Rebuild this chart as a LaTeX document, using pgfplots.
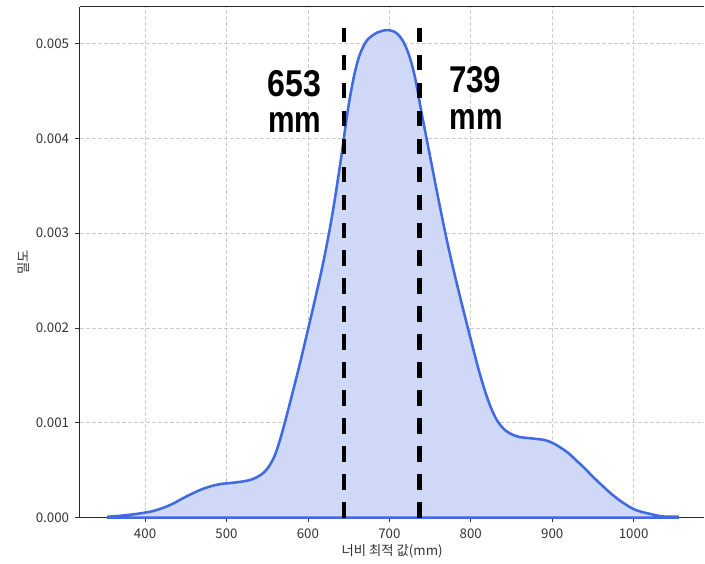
\documentclass[border=0pt]{standalone}
\usepackage{pgfplots}
\pgfplotsset{compat=1.18}
\usepackage{fontspec}
\setmainfont{Noto Sans CJK KR}
\newfontfamily\annfont{Liberation Sans}
\definecolor{royal}{RGB}{65,105,225}
\definecolor{fillc}{RGB}{207,216,246}
\definecolor{gridc}{RGB}{205,205,205}
\definecolor{tickc}{RGB}{50,50,50}
\begin{document}
\begin{tikzpicture}
\begin{axis}[
  scale only axis,
  width=468.75pt, height=383.6pt,
  xmin=320, xmax=1087, ymin=0, ymax=0.00539,
  axis lines*=left,
  tick align=outside,
  major tick length=3.6pt,
  every tick/.style={black!80, line width=0.6pt},
  axis line style={black!85, line width=0.8pt},
  xtick={400,500,600,700,800,900,1000},
  xticklabels={400,500,600,700,800,900,1000},
  ytick={0,0.001,0.002,0.003,0.004,0.005},
  yticklabels={0.000,0.001,0.002,0.003,0.004,0.005},
  scaled y ticks=false,
  /pgf/number format/assume math mode=true,
  ticklabel style={font=\fontsize{10}{12}\selectfont, text=tickc},
  xticklabel style={yshift=-1pt},
  yticklabel style={xshift=-1pt},
  grid=major,
  major grid style={gridc, dash pattern=on 3pt off 1.5pt, line width=0.5pt},
  xlabel={너비 최적 값(mm)},
  ylabel={밀도},
  label style={font=\fontsize{10}{12}\selectfont, text=tickc},
  xlabel style={yshift=2pt},
  ylabel style={yshift=-2pt},
  clip=false,
]
\addplot[draw=royal, fill=fillc, line width=1.9pt, smooth, tension=0.6] coordinates {
(355,0.00001) (370,0.00002) (390,0.00004) (410,0.00007) (430,0.00013)
(450,0.00022) (470,0.00030) (490,0.00035) (510,0.00037) (530,0.00040)
(545,0.00047) (555,0.00058) (562,0.00072) (570,0.00095) (580,0.00128)
(590,0.00162) (600,0.00198) (610,0.00235) (620,0.00274) (630,0.00320)
(640,0.00375) (650,0.00435) (660,0.00478) (670,0.00500) (680,0.00509)
(690,0.00513) (700,0.00514) (710,0.00510) (720,0.00497) (730,0.00470)
(740,0.00425) (750,0.00381) (760,0.00337) (770,0.00295) (780,0.00257)
(790,0.00222) (800,0.00188) (810,0.00155) (820,0.00127) (830,0.00106)
(840,0.00094) (850,0.00088) (860,0.00085) (870,0.00084) (880,0.00083)
(890,0.00082) (900,0.00079) (910,0.00074) (920,0.00068) (930,0.00060)
(940,0.00052) (950,0.00043) (960,0.00035) (970,0.00027) (980,0.00020)
(990,0.00014) (1000,0.00009) (1010,0.00006) (1020,0.00004) (1030,0.00002)
(1040,0.00001) (1054,0.00001)
} \closedcycle;
\addplot[black, line width=3.3pt, dash pattern=on 11.5pt off 9.5pt] coordinates {(644,0) (644,0.00516)};
\addplot[black, line width=3.3pt, dash pattern=on 11.5pt off 9.5pt] coordinates {(737,0) (737,0.00516)};
\node[anchor=base west, inner sep=0pt, font=\annfont\bfseries\fontsize{28}{30}\selectfont] at (axis cs:550,0.00444) {\scalebox{0.86}[1]{653}};
\node[anchor=base west, inner sep=0pt, font=\annfont\bfseries\fontsize{28}{30}\selectfont] at (axis cs:551,0.00406) {\scalebox{0.80}[1]{mm}};
\node[anchor=base west, inner sep=0pt, font=\annfont\bfseries\fontsize{28}{30}\selectfont] at (axis cs:773,0.00448) {\scalebox{0.84}[1]{739}};
\node[anchor=base west, inner sep=0pt, font=\annfont\bfseries\fontsize{28}{30}\selectfont] at (axis cs:774,0.00409) {\scalebox{0.80}[1]{mm}};
\draw[black!85, line width=0.8pt] (rel axis cs:0,1) -- (rel axis cs:1,1);
\coordinate (bl) at (rel axis cs:0,0);
\coordinate (tr) at (rel axis cs:1,1);
\end{axis}
\path[use as bounding box] ([xshift=-60pt,yshift=-34.5pt]bl) rectangle ([yshift=4.9pt]tr);
\end{tikzpicture}
\end{document}
